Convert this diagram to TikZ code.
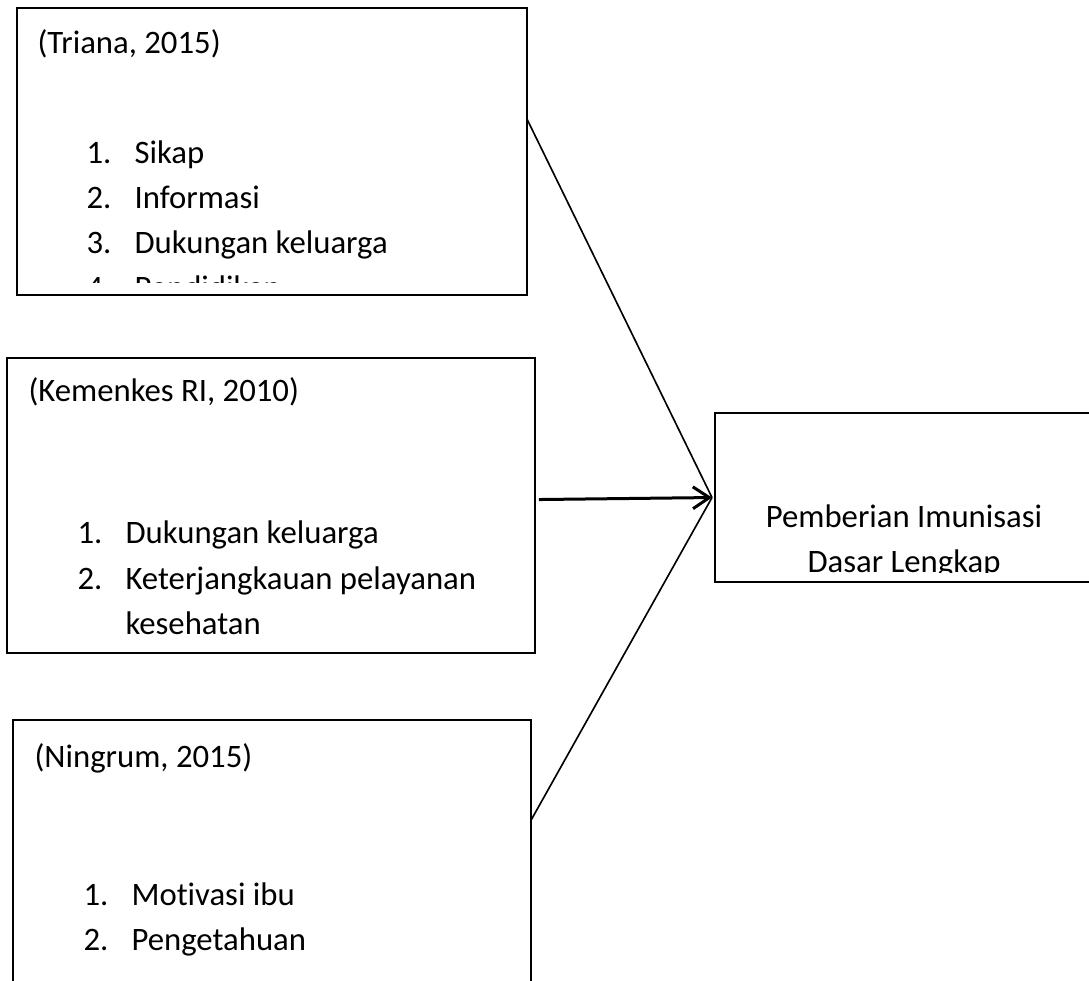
\documentclass[tikz,border=0pt]{standalone}
\usepackage{fontspec}
\setmainfont{Carlito}[Ligatures=NoCommon]
\usetikzlibrary{arrows.meta,calc}

\begin{document}
\begin{tikzpicture}[x=0.3667pt,y=-0.3667pt,
                every path/.style={>={Straight Barb[length=6pt,width=8pt]}},
                box/.style={draw,line width=0.7pt,anchor=north west,inner sep=0pt,outer sep=0pt},
                txt/.style={anchor=base west,inner sep=0pt,font=\fontsize{12}{14}\selectfont},
                link/.style={line width=0.6pt}]
  \clip (0,0) rectangle (1089,980);
  % boxes
  \node[box,minimum width=187pt,minimum height=105.2pt]   (triana)    at (17,8)    {};
  \node[box,minimum width=193.6pt,minimum height=108.2pt] (kemenkes)  at (7,358)   {};
  \node[box,minimum width=190pt,minimum height=106.3pt]   (ningrum)   at (13,720)  {};
  \node[box,minimum width=146.7pt,minimum height=62pt]    (imunisasi) at (715,413) {};
  % texts
  \begin{scope}
    \clip (triana.north west) rectangle ($(triana.south east)+(0,-12)$);
    \node[txt] (triana-t)  at (37,54)   {(Triana, 2015)};
    \node[txt] (triana-n1) at (86,164)  {1.};
    \node[txt] (triana-1)  at (134,164) {Sikap};
    \node[txt] (triana-n2) at (86,209)  {2.};
    \node[txt] (triana-2)  at (134,209) {Informasi};
    \node[txt] (triana-n3) at (86,254)  {3.};
    \node[txt] (triana-3)  at (134,254) {Dukungan keluarga};
    \node[txt] (triana-n4) at (86,299)  {4.};
    \node[txt] (triana-4)  at (134,299) {Pendidikan};
  \end{scope}
  \node[txt] (kemenkes-t)  at (28,401)  {(Kemenkes RI, 2010)};
  \node[txt] (kemenkes-n1) at (77,543)  {1.};
  \node[txt] (kemenkes-1)  at (125,543) {Dukungan keluarga};
  \node[txt] (kemenkes-n2) at (77,589)  {2.};
  \node[txt] (kemenkes-2)  at (125,589) {Keterjangkauan pelayanan};
  \node[txt] (kemenkes-3)  at (125,634) {kesehatan};
  \node[txt] (ningrum-t)  at (34,767)  {(Ningrum, 2015)};
  \node[txt] (ningrum-n1) at (83,905)  {1.};
  \node[txt] (ningrum-1)  at (131,905) {Motivasi ibu};
  \node[txt] (ningrum-n2) at (83,950)  {2.};
  \node[txt] (ningrum-2)  at (131,950) {Pengetahuan};
  \begin{scope}
    \clip (imunisasi.north west) rectangle ($(imunisasi.south east)+(0,-10)$);
    \node[txt,anchor=base] (imunisasi-1) at (904,527) {Pemberian Imunisasi};
    \node[txt,anchor=base] (imunisasi-2) at (904,572) {Dasar Lengkap};
  \end{scope}
  % arrows
  \coordinate (tip) at ($(imunisasi.west)+(-3,0)$);
  \draw[link] ($(triana.north east)+(0,111)$) -- (tip);
  \draw[link,line width=1.1pt,->] ($(kemenkes.east)+(4,-6)$) -- (tip);
  \draw[link] ($(ningrum.north east)+(0,100)$) -- (tip);
\end{tikzpicture}
\end{document}
